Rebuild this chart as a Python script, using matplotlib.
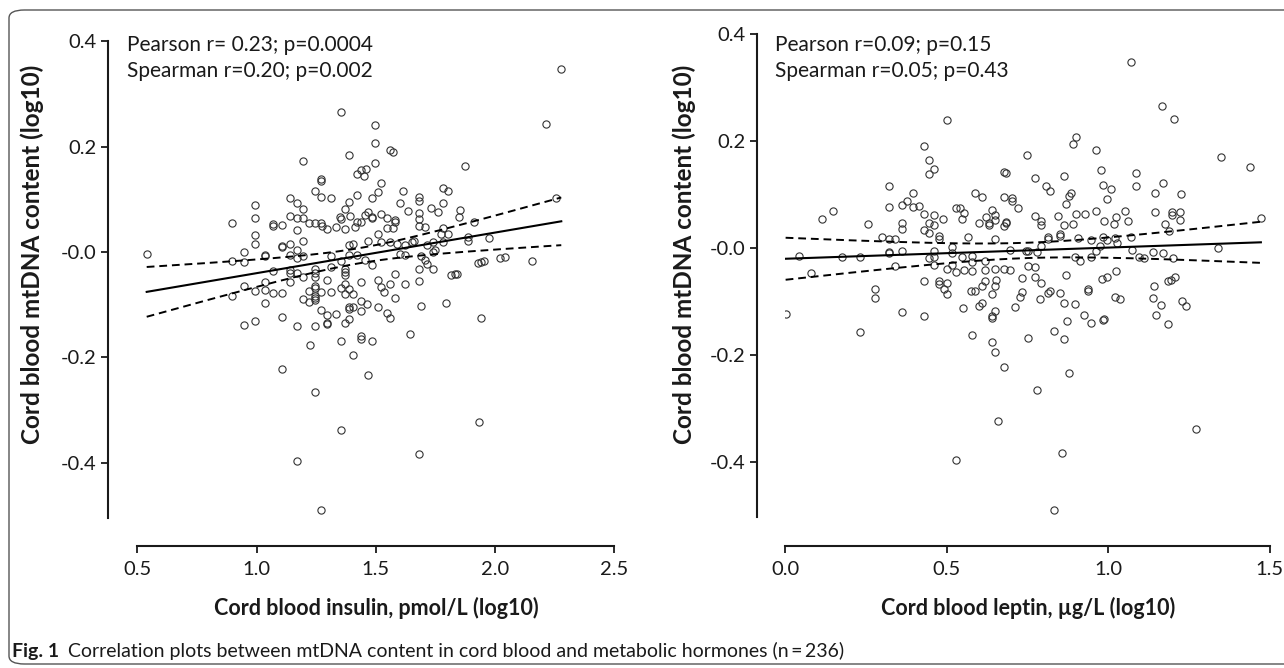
import matplotlib

matplotlib.use("Agg")
import matplotlib.pyplot as plt
import numpy as np
from matplotlib.patches import FancyBboxPatch

# Values (log10 units).
insulin = [
    0.539, 1.352, 1.389, 1.196, 1.269, 1.269, 1.42, 1.44, 1.46, 1.45,
    1.246, 1.269, 1.313, 1.139, 1.170, 1.196, 0.993, 0.993, 0.993, 0.993,
    0.897, 1.139, 1.170, 1.196, 1.070, 1.070, 1.107, 1.170, 1.22, 1.246,
    1.269, 1.275, 1.294, 1.333, 1.350, 1.352, 1.371, 1.392, 1.371, 1.414,
    1.421, 1.438, 1.455, 1.389, 1.421, 1.107, 1.107, 1.139, 1.196, 1.170,
    1.034, 1.034, 0.947, 0.947, 0.897, 1.139, 1.196, 1.170, 1.070, 1.139,
    1.139, 1.170, 1.196, 1.246, 1.246, 1.246, 1.313, 1.352, 1.389, 1.406,
    1.389, 1.421, 1.455, 1.467, 1.371, 1.371, 1.371, 1.313, 1.294, 1.139,
    1.034, 1.034, 0.947, 0.993, 1.070, 1.107, 1.22, 1.246, 1.246, 1.246,
    1.27, 1.313, 1.352, 1.371, 1.389, 1.371, 1.406, 1.438, 0.897,
    1.034, 0.947, 0.993, 1.107, 1.170, 1.196, 1.220, 1.246, 1.246, 1.246,
    1.269, 1.294, 1.294, 1.294, 1.333, 1.438, 1.465, 1.389, 1.406, 1.389,
    1.438, 1.371, 1.389, 1.222, 1.352, 1.438, 1.438, 1.406, 1.107, 1.466,
    1.246, 1.352, 1.170, 1.269,
    1.495, 1.495, 1.558, 1.571, 1.495, 2.212, 1.875, 2.254, 1.522, 1.509,
    1.482, 1.612, 1.603, 1.633, 1.680, 1.680, 1.680, 1.680, 1.680, 1.705,
    1.730, 1.759, 1.782, 1.801, 1.782, 1.853, 1.847, 1.913, 1.469, 1.482,
    1.482, 1.522, 1.545, 1.571, 1.545, 1.580, 1.580, 1.509, 1.522, 1.558,
    1.591, 1.622, 1.650, 1.661, 1.713, 1.738, 1.782, 1.782, 1.773, 1.801,
    1.885, 1.885, 1.974, 1.482, 1.603, 1.622, 1.688, 1.738, 1.747, 1.705,
    1.713, 1.680, 1.738, 1.927, 1.940, 1.953, 2.021, 2.042, 2.156, 1.815,
    1.833, 1.841, 1.580, 1.622, 1.680, 1.509, 1.522, 1.534, 1.558, 1.580,
    1.689, 1.794, 1.942, 1.509, 1.545, 1.558, 1.482, 1.642, 1.932, 1.680,
    2.278,
]
mtdna_ins = [
    -0.003, 0.265, 0.184, 0.172, 0.139, 0.135, 0.148, 0.155, 0.158, 0.145,
    0.116, 0.105, 0.102, 0.102, 0.092, 0.082, 0.089, 0.064, 0.032, 0.016,
    0.055, 0.068, 0.064, 0.064, 0.053, 0.050, 0.051, 0.042, 0.054, 0.055,
    0.055, 0.050, 0.043, 0.047, 0.067, 0.062, 0.082, 0.069, 0.044, 0.048,
    0.057, 0.056, 0.071, 0.095, 0.109, 0.012, 0.009, 0.016, 0.020, 0.004,
    -0.005, -0.007, -0.001, -0.020, -0.018, -0.005, -0.008, -0.012, -0.036, -0.034,
    -0.040, -0.040, -0.048, -0.033, -0.040, -0.048, -0.008, -0.018, -0.006, 0.015,
    0.013, -0.005, -0.015, 0.020, -0.033, -0.038, -0.043, -0.029, -0.053, -0.057,
    -0.057, -0.072, -0.064, -0.075, -0.077, -0.077, -0.075, -0.064, -0.069, -0.083,
    -0.076, -0.076, -0.069, -0.061, -0.070, -0.080, -0.080, -0.058, -0.083,
    -0.097, -0.139, -0.132, -0.124, -0.140, -0.089, -0.095, -0.087, -0.092, -0.140,
    -0.110, -0.119, -0.134, -0.137, -0.118, -0.094, -0.099, -0.104, -0.104, -0.109,
    -0.112, -0.135, -0.128, -0.177, -0.169, -0.160, -0.165, -0.195, -0.223, -0.233,
    -0.265, -0.338, -0.397, -0.490,
    0.240, 0.207, 0.194, 0.190, 0.169, 0.243, 0.164, 0.103, 0.130, 0.114,
    0.102, 0.116, 0.093, 0.077, 0.104, 0.096, 0.073, 0.063, 0.050, 0.048,
    0.083, 0.075, 0.121, 0.116, 0.092, 0.080, 0.067, 0.056, 0.076, 0.066,
    0.064, 0.072, 0.065, 0.045, 0.045, 0.061, 0.056, 0.034, 0.018, 0.018,
    0.016, 0.013, 0.018, 0.020, 0.014, 0.019, 0.018, 0.046, 0.034, 0.035,
    0.029, 0.020, 0.026, -0.025, -0.004, -0.006, -0.007, 0.000, 0.004, -0.016,
    -0.023, -0.033, -0.033, -0.021, -0.020, -0.018, -0.011, -0.009, -0.017, -0.044,
    -0.041, -0.041, -0.042, -0.060, -0.055, -0.054, -0.066, -0.076, -0.061, -0.087,
    -0.103, -0.096, -0.126, -0.104, -0.116, -0.125, -0.169, -0.156, -0.323, -0.383,
    0.348,
]

leptin = [
    0.043, 0.080, 0.115, 0.147, 0.177, 0.230, 0.255, 0.278, 0.278, 0.300,
    0.321, 0.341, 0.321, 0.321, 0.360, 0.341, 0.321, 0.321, 0.360, 0.378,
    0.395, 0.395, 0.413, 0.360, 0.360, 0.430, 0.444, 0.461, 0.444, 0.502,
    0.430, 0.444, 0.461, 0.461, 0.487, 0.430, 0.444, 0.475, 0.475, 0.461,
    0.461, 0.444, 0.461, 0.516, 0.516, 0.547, 0.516, 0.529, 0.541, 0.553,
    0.547, 0.566, 0.588, 0.609, 0.599, 0.630, 0.630, 0.640, 0.650, 0.650,
    0.621, 0.578, 0.578, 0.619, 0.619, 0.650, 0.502, 0.529, 0.553, 0.578,
    0.430, 0.475, 0.475, 0.502, 0.490, 0.502, 0.574, 0.588, 0.609, 0.619,
    0.640, 0.653,
    0.001, 0.230, 0.360, 0.430, 0.551, 0.599, 0.609, 0.650, 0.640, 0.640,
    0.577, 0.640, 0.650, 0.660, 0.528,
    1.071, 1.166, 1.205, 1.350, 1.438, 1.473, 1.339, 0.891, 0.901, 0.961,
    0.750, 0.677, 0.685, 0.772, 0.863, 0.979, 1.087, 1.087, 0.807, 0.819,
    0.984, 1.010, 0.996, 1.170, 1.144, 1.225, 0.677, 0.702, 0.702, 0.720,
    0.648, 0.885, 0.880, 0.869, 0.772, 0.793, 0.793, 0.844, 0.685, 0.685,
    0.677, 0.901, 0.927, 0.961, 0.891, 0.863, 0.987, 1.017, 1.025, 1.052,
    1.060, 1.146, 1.176, 1.198, 1.222, 1.198, 1.223, 1.189, 0.815, 0.815,
    0.852, 0.852, 0.907, 0.947, 0.984, 0.996, 1.020, 1.027, 1.072, 0.695,
    0.745, 0.752, 0.781, 0.793, 0.961, 0.975, 1.075, 1.140, 1.170, 0.897,
    0.913, 0.947, 1.094, 1.111, 1.201, 0.677, 0.695, 0.752, 0.772, 0.648,
    0.734, 0.772, 0.793, 0.869, 1.025, 0.995, 0.981, 0.938, 1.142, 1.185,
    1.196, 1.208,
    0.728, 0.788, 0.813, 0.820, 0.852, 0.734, 0.937, 1.021, 1.037, 1.138,
    1.164, 1.228, 1.241, 0.864, 0.897, 0.712, 0.874, 0.924, 0.947, 0.984,
    0.988, 1.148, 1.184, 0.751, 0.833, 0.864, 0.677, 0.880, 0.781, 1.272,
    0.857, 0.833,
]
mtdna_lep = [
    -0.015, -0.047, 0.055, 0.069, -0.017, -0.017, 0.044, -0.077, -0.094, 0.021,
    0.016, 0.016, -0.007, -0.010, -0.006, -0.033, 0.116, 0.076, 0.081, 0.088,
    0.102, 0.077, 0.078, 0.047, 0.036, 0.191, 0.164, 0.148, 0.139, 0.240,
    0.064, 0.047, 0.062, 0.043, 0.055, 0.034, 0.028, 0.022, 0.016, -0.006,
    -0.017, -0.019, -0.032, 0.001, -0.009, -0.017, -0.032, 0.075, 0.075, 0.065,
    0.055, 0.021, 0.102, 0.095, 0.046, 0.046, 0.042, 0.071, 0.062, 0.016,
    0.058, -0.015, -0.027, -0.024, -0.042, -0.040, -0.039, -0.045, -0.042, -0.043,
    -0.061, -0.061, -0.068, -0.065, -0.077, -0.087, -0.080, -0.080, -0.071, -0.061,
    -0.087, -0.060,
    -0.124, -0.158, -0.120, -0.127, -0.113, -0.108, -0.103, -0.118, -0.127, -0.131,
    -0.163, -0.175, -0.195, -0.323, -0.397,
    0.348, 0.265, 0.242, 0.170, 0.151, 0.056, -0.001, 0.194, 0.207, 0.184,
    0.173, 0.142, 0.140, 0.130, 0.135, 0.145, 0.140, 0.115, 0.116, 0.106,
    0.118, 0.110, 0.092, 0.121, 0.102, 0.101, 0.095, 0.094, 0.088, 0.074,
    0.052, 0.102, 0.097, 0.082, 0.060, 0.051, 0.043, 0.060, 0.048, 0.046,
    0.041, 0.064, 0.064, 0.070, 0.045, 0.042, 0.050, 0.045, 0.057, 0.070,
    0.051, 0.068, 0.045, 0.067, 0.067, 0.062, 0.053, 0.032, 0.020, 0.016,
    0.027, 0.022, 0.019, 0.015, 0.020, 0.015, 0.018, 0.010, 0.020, -0.003,
    -0.005, -0.006, -0.007, 0.004, -0.005, 0.004, -0.003, -0.007, -0.009, -0.017,
    -0.024, -0.017, -0.016, -0.019, -0.018, -0.039, -0.042, -0.034, -0.035, -0.071,
    -0.057, -0.055, -0.065, -0.051, -0.044, -0.054, -0.058, -0.076, -0.071, -0.062,
    -0.059, -0.055,
    -0.091, -0.096, -0.085, -0.081, -0.085, -0.082, -0.081, -0.091, -0.096, -0.094,
    -0.106, -0.100, -0.108, -0.103, -0.105, -0.110, -0.137, -0.126, -0.140, -0.135,
    -0.133, -0.125, -0.142, -0.168, -0.155, -0.170, -0.222, -0.233, -0.265, -0.338,
    -0.383, -0.489,
]

y_ticks = [-0.4, -0.2, 0.0, 0.2, 0.4]
y_tick_labels = ["-0.4", "-0.2", "-0.0", "0.2", "0.4"]
ins_ticks = [0.5, 1.0, 1.5, 2.0, 2.5]
lep_ticks = [0.0, 0.5, 1.0, 1.5]
stats_ins = ["Pearson r= 0.23; p=0.0004", "Spearman r=0.20; p=0.002"]
stats_lep = ["Pearson r=0.09; p=0.15", "Spearman r=0.05; p=0.43"]

W, H = 1284, 668
FONT = "Lato"
INK = "#1a1a1a"


def fx(px):
    return px / W


def fy(py):
    return 1 - py / H


def fit_with_band(ax, x, y, t=1.97):
    """OLS line plus 95% confidence band of the mean."""
    x = np.asarray(x)
    y = np.asarray(y)
    slope, intercept = np.polyfit(x, y, 1)
    resid = y - (slope * x + intercept)
    s = np.sqrt(np.sum(resid ** 2) / (len(x) - 2))
    sxx = np.sum((x - x.mean()) ** 2)
    grid = np.linspace(x.min(), x.max(), 200)
    pred = slope * grid + intercept
    half = t * s * np.sqrt(1 / len(x) + (grid - x.mean()) ** 2 / sxx)
    ax.plot(grid, pred, color="black", lw=1.5, zorder=3)
    for band in (pred - half, pred + half):
        ax.plot(grid, band, color="black", lw=1.4, ls=(0, (4, 2.5)), zorder=3)


def style_axes(ax, xticks, xlim, ylim, left_out, bottom_out):
    ax.set_xlim(*xlim)
    ax.set_ylim(*ylim)
    ax.set_xticks(xticks)
    ax.set_xticklabels([f"{v:.1f}" for v in xticks])
    ax.set_yticks(y_ticks)
    ax.set_yticklabels(y_tick_labels)
    for side in ("top", "right"):
        ax.spines[side].set_visible(False)
    ax.spines["left"].set_position(("outward", left_out))
    ax.spines["bottom"].set_position(("outward", bottom_out))
    for side in ("left", "bottom"):
        ax.spines[side].set_linewidth(1.5)
        ax.spines[side].set_color(INK)
    ax.tick_params(axis="both", length=5, width=1.3, color=INK,
                   labelsize=14.5, labelcolor=INK)
    ax.tick_params(axis="x", pad=6)
    ax.tick_params(axis="y", pad=3)
    for lab in ax.get_xticklabels() + ax.get_yticklabels():
        lab.set_family(FONT)


fig = plt.figure(figsize=(W / 100, H / 100), dpi=100)

border = FancyBboxPatch((fx(9), fy(664)), fx(1320) - fx(9), fy(10) - fy(664),
                        boxstyle="round,pad=0,rounding_size=0.012",
                        transform=fig.transFigure, fill=False,
                        edgecolor="#555555", lw=1.0)
fig.patches.append(border)

ax1 = fig.add_axes([fx(137.4), fy(518), fx(614.2) - fx(137.4), fy(41.2) - fy(518)])
ax2 = fig.add_axes([fx(785.3), fy(517), fx(1269.6) - fx(785.3), fy(34) - fy(517)])

for ax, x, y in ((ax1, insulin, mtdna_ins), (ax2, leptin, mtdna_lep)):
    ax.plot(x, y, ls="none", marker="o", ms=5.2, mfc="none", mec="#333333",
            mew=0.8, zorder=2)
    fit_with_band(ax, x, y)

style_axes(ax1, ins_ticks, (0.5, 2.5), (-0.505, 0.4), 21.2, 20.2)
style_axes(ax2, lep_ticks, (0.0, 1.5), (-0.503, 0.4), 20.4, 20.9)

for px, lines in ((127, stats_ins), (775, stats_lep)):
    for i, line in enumerate(lines):
        fig.text(fx(px), fy(45 + 26 * i), line, ha="left", va="center",
                 family=FONT, fontsize=15, color=INK)

ylab = "Cord blood mtDNA content (log10)"
for px in (32, 684):
    fig.text(fx(px), fy(254), ylab, rotation=90, ha="center", va="center",
             family=FONT, fontweight="bold", fontsize=17.5, color=INK)

fig.text(fx(376), fy(608), "Cord blood insulin, pmol/L (log10)", ha="center",
         va="center", family=FONT, fontweight="bold", fontsize=15.5, color=INK)
fig.text(fx(1028), fy(608), "Cord blood leptin, \u00b5g/L (log10)", ha="center",
         va="center", family=FONT, fontweight="bold", fontsize=15.5, color=INK)

fig.text(fx(12), fy(651), "Fig. 1", ha="left", va="center", family=FONT,
         fontweight="bold", fontsize=14, color=INK)
fig.text(fx(68), fy(651),
         "Correlation plots between mtDNA content in cord blood and metabolic "
         "hormones (n\u2009=\u2009236)",
         ha="left", va="center", family=FONT, fontsize=14, color=INK)

fig.savefig("out.png", dpi=100)
